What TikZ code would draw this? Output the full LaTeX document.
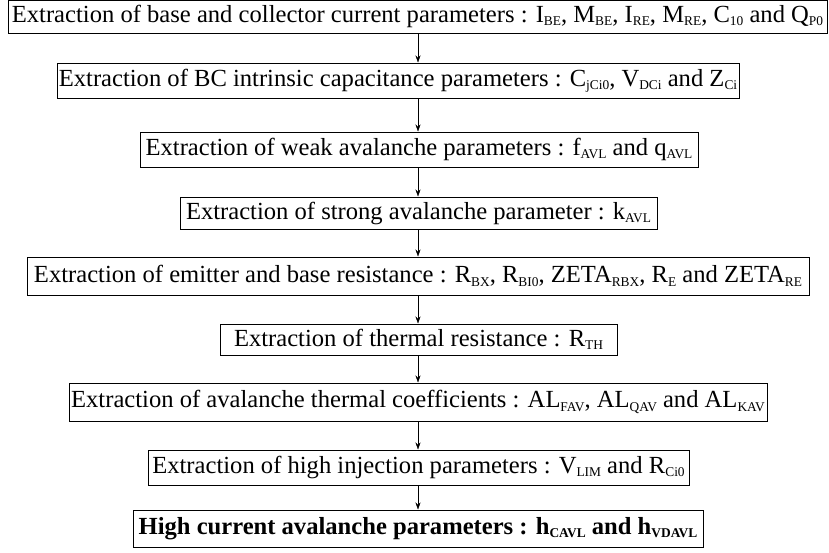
\documentclass[tikz,border=0pt]{standalone}
\usepackage{fontspec}
\setmainfont{Liberation Serif}
\usetikzlibrary{arrows.meta}
\newcommand{\subs}[1]{\raisebox{-0.3ex}{\fontsize{13.4}{13.4}\selectfont #1}}
\begin{document}
\begin{tikzpicture}[x=1pt,y=-1pt,>={Stealth[length=7pt,width=5pt]},
  box/.style={draw,line width=1pt,inner sep=0pt,font=\fontsize{24.6}{28}\selectfont}]
\useasboundingbox (0,0) rectangle (829,552);
\node[box,minimum width=819pt,minimum height=33pt] (b1) at (417.5,16.5){Extraction of base and collector current parameters : I\subs{BE}, M\subs{BE}, I\subs{RE}, M\subs{RE}, C\subs{10} and Q\subs{P0}};
\node[box,minimum width=682pt,minimum height=35pt] (b2) at (398,80.5){Extraction of BC intrinsic capacitance parameters : C\subs{jCi0}, V\subs{DCi} and Z\subs{Ci}};
\node[box,minimum width=558pt,minimum height=35pt] (b3) at (419,149.5){Extraction of weak avalanche parameters : f\subs{AVL} and q\subs{AVL}};
\node[box,minimum width=477pt,minimum height=32pt] (b4) at (418.5,213){Extraction of strong avalanche parameter : k\subs{AVL}};
\node[box,minimum width=782pt,minimum height=38pt] (b5) at (418,276){Extraction of emitter and base resistance : R\subs{BX}, R\subs{BI0}, ZETA\subs{RBX}, R\subs{E} and ZETA\subs{RE}};
\node[box,minimum width=397pt,minimum height=31pt] (b6) at (418.5,339.5){Extraction of thermal resistance : R\subs{TH}};
\node[box,minimum width=698pt,minimum height=38pt] (b7) at (418,402){Extraction of avalanche thermal coefficients : AL\subs{FAV}, AL\subs{QAV} and AL\subs{KAV}};
\node[box,minimum width=541pt,minimum height=35pt] (b8) at (418.5,467.5){Extraction of high injection parameters : V\subs{LIM} and R\subs{Ci0}};
\node[box,minimum width=570pt,minimum height=37pt] (b9) at (418,528.5){\bfseries High current avalanche parameters : h\subs{CAVL} and h\subs{VDAVL}};

\draw[->](b1.south -| b9)--(b2.north -| b9);
\draw[->](b2.south -| b9)--(b3.north -| b9);
\draw[->](b3.south -| b9)--(b4.north -| b9);
\draw[->](b4.south -| b9)--(b5.north -| b9);
\draw[->](b5.south -| b9)--(b6.north -| b9);
\draw[->](b6.south -| b9)--(b7.north -| b9);
\draw[->](b7.south -| b9)--(b8.north -| b9);
\draw[->](b8.south -| b9)--(b9.north);
\end{tikzpicture}
\end{document}
